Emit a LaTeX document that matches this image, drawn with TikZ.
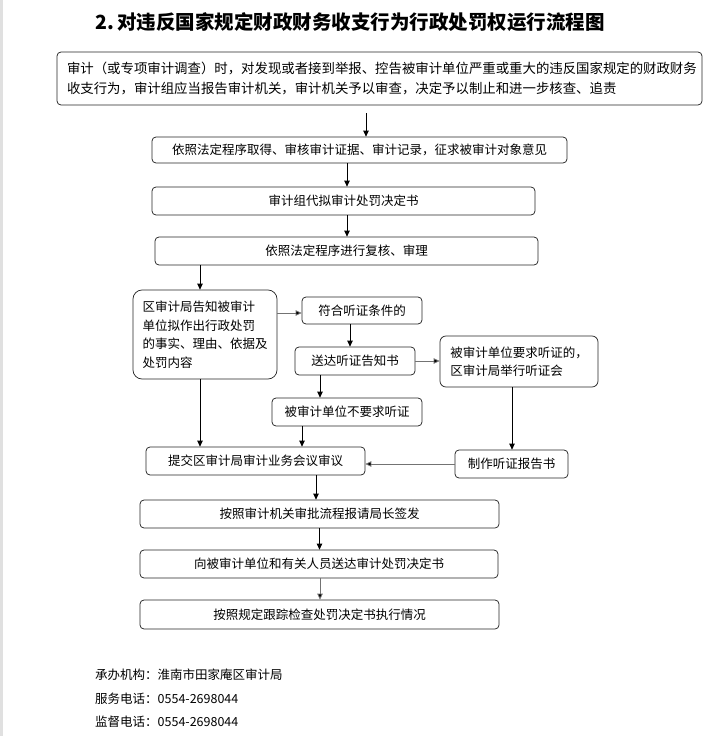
\documentclass[tikz,border=0pt]{standalone}
\usepackage{fontspec}
\newfontfamily\cjk{Noto Sans CJK SC}
\usetikzlibrary{arrows.meta}
\begin{document}
\begin{tikzpicture}[x=1pt,y=-1pt,
  box/.style={draw=black!85, line width=0.75pt, rounded corners=4pt, inner sep=0pt,
    font=\cjk\fontsize{12.5}{18.5}\selectfont, align=center},
  bigbox/.style={box, rounded corners=9pt, align=left},
  arr/.style={line width=0.8pt, draw=black, -{Triangle[length=6pt,width=5.5pt]}},
  garr/.style={arr, draw=black!55, -{Triangle[length=6pt,width=5.5pt,fill=black]}},
  foot/.style={font=\cjk\fontsize{12.5}{15}\selectfont, anchor=west, inner sep=0pt}]
\useasboundingbox (0,0) rectangle (718,736);
\fill[black!12] (0,0) rectangle (3,736);

\node[font=\cjk\bfseries\fontsize{19.5}{23}\selectfont, inner sep=0pt] (title) at (350,22) {2.\,对违反国家规定财政财务收支行为行政处罚权运行流程图};

\node[box, minimum width=645pt, minimum height=53pt, text width=625pt, align=left,
  font=\cjk\fontsize{13.4}{20}\selectfont] (b1) at (379.5,78.5)
  {审计（或专项审计调查）时，对发现或者接到举报、控告被审计单位严重或重大的违反国家规定的财政财务\\收支行为，审计组应当报告审计机关，审计机关予以审查，决定予以制止和进一步核查、追责};

\node[box, minimum width=415pt, minimum height=26pt] (b2) at (359.5,150) {依照法定程序取得、审核审计证据、审计记录，征求被审计对象意见};
\node[box, minimum width=383pt, minimum height=28pt] (b3) at (343.5,201) {审计组代拟审计处罚决定书};
\node[box, minimum width=383pt, minimum height=28pt] (b4) at (346.5,251) {依照法定程序进行复核、审理};
\node[bigbox, minimum width=144pt, minimum height=89pt] (b5) at (205,334.5) {区审计局告知被审计\\单位拟作出行政处罚\\的事实、理由、依据及\\处罚内容};
\node[box, minimum width=120pt, minimum height=27pt] (b6) at (362,310.5) {符合听证条件的};
\node[box, minimum width=120pt, minimum height=28pt] (b7) at (355,361) {送达听证告知书};
\node[bigbox, rounded corners=6pt, minimum width=158pt, minimum height=51pt] (b8) at (519,361.5) {被审计单位要求听证的，\\区审计局举行听证会};
\node[box, minimum width=150pt, minimum height=28pt] (b9) at (347,412) {被审计单位不要求听证};
\node[box, minimum width=219pt, minimum height=28pt] (b10) at (255.5,461) {提交区审计局审计业务会议审议};
\node[box, minimum width=113pt, minimum height=28pt] (b11) at (511.5,464) {制作听证报告书};
\node[box, minimum width=359pt, minimum height=28pt] (b12) at (319.5,514) {按照审计机关审批流程报请局长签发};
\node[box, minimum width=358pt, minimum height=28pt] (b13) at (319,564) {向被审计单位和有关人员送达审计处罚决定书};
\node[box, minimum width=359pt, minimum height=29pt] (b14) at (319.5,614.5) {按照规定跟踪检查处罚决定书执行情况};

\coordinate (s) at (366,113);
\draw[arr] (s) -- (s |- b2.north);
\draw[arr] ([xshift=-12.5pt]b2.south) -- ([xshift=-12.5pt]b2.south |- b3.north);
\draw[arr] ([xshift=3.5pt]b3.south) -- ([xshift=3.5pt]b3.south |- b4.north);
\draw[arr] ([xshift=-146.5pt]b4.south) -- ([xshift=-146.5pt]b4.south |- b5.north);
\draw[garr] ([yshift=21.5pt]b5.east) -- ([yshift=21.5pt]b5.east -| b6.west);
\draw[arr] ([xshift=-12pt]b6.south) -- ([xshift=-12pt]b6.south |- b7.north);
\draw[garr] (b7.east) -- (b7.east -| b8.west);
\draw[arr] ([xshift=-35pt]b7.south) -- ([xshift=-35pt]b7.south |- b9.north);
\draw[arr] ([xshift=-45pt]b9.south) -- ([xshift=-45pt]b9.south |- b10.north);
\draw[arr] ([xshift=-5pt]b5.south) -- ([xshift=-5pt]b5.south |- b10.north);
\draw[arr] ([xshift=-7pt]b8.south) -- ([xshift=-7pt]b8.south |- b11.north);
\draw[garr] (b11.west) -- (b11.west -| b10.east);
\draw[arr] ([xshift=60.5pt]b10.south) -- ([xshift=60.5pt]b10.south |- b12.north);
\draw[arr] (b12.south) -- (b12.south |- b13.north);
\draw[garr] ([xshift=1pt]b13.south) -- ([xshift=1pt]b13.south |- b14.north);

\node[foot] (f1) at (95,675) {承办机构：淮南市田家庵区审计局};
\node[foot] (f2) at (95,699) {服务电话：0554-2698044};
\node[foot] (f3) at (95,722) {监督电话：0554-2698044};
\end{tikzpicture}
\end{document}
